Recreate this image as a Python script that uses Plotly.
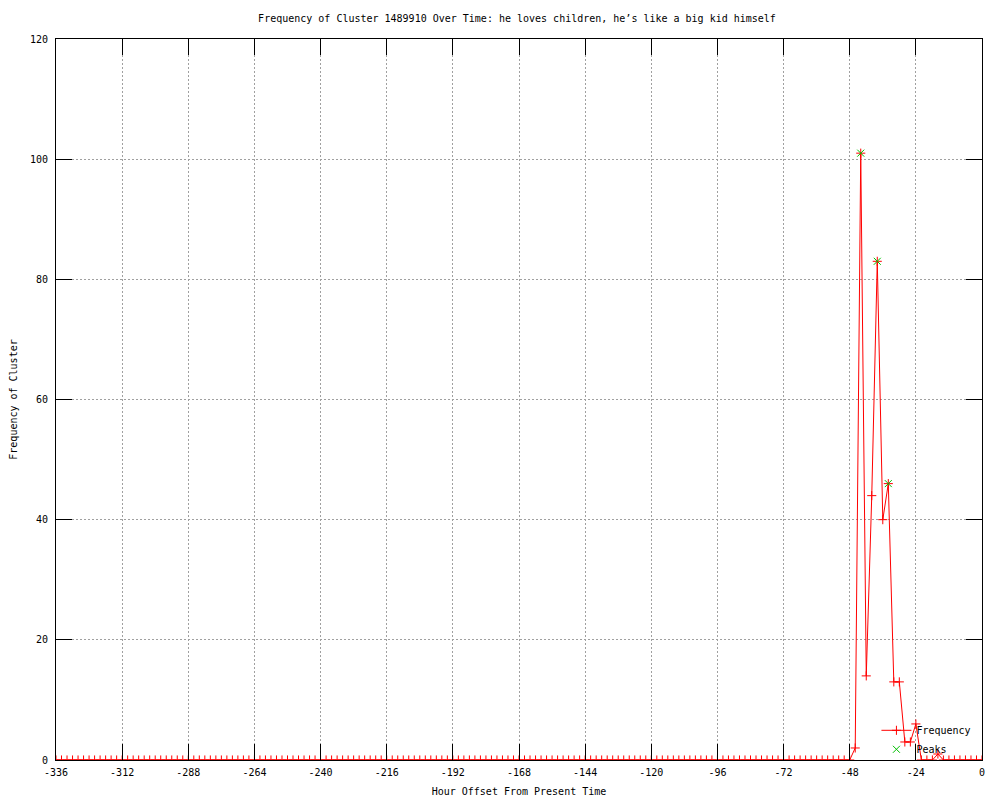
import plotly.graph_objects as go

# Hour offsets (every 2 hours from -336 to 0)
hours = list(range(-336, 1, 2))

# Frequency values
freq_early = [
    0, 0, 0, 0, 0, 0, 0, 0, 0, 0, 0, 0, 0, 0, 0, 0, 0, 0, 0, 0, 0, 0, 0, 0,
    0, 0, 0, 0, 0, 0, 0, 0, 0, 0, 0, 0, 0, 0, 0, 0, 0, 0, 0, 0, 0, 0, 0, 0,
    0, 0, 0, 0, 0, 0, 0, 0, 0, 0, 0, 0, 0, 0, 0, 0, 0, 0, 0, 0, 0, 0, 0, 0,
    0, 0, 0, 0, 0, 0, 0, 0, 0, 0, 0, 0, 0, 0, 0, 0, 0, 0, 0, 0, 0, 0, 0, 0,
    0, 0, 0, 0, 0, 0, 0, 0, 0, 0, 0, 0, 0, 0, 0, 0, 0, 0, 0, 0, 0, 0, 0, 0,
    0, 0, 0, 0, 0, 0, 0, 0, 0, 0, 0, 0, 0, 0, 0, 0, 0, 0, 0, 0, 0, 0, 0, 0,
]  # -336 .. -50
freq_late = [0, 2, 101, 14, 44, 83, 40, 46, 13, 13, 3, 3, 6, 0, 0, 0, 1,
             0, 0, 0, 0, 0, 0, 0, 0]  # -48 .. 0
frequency = freq_early + freq_late

# Peaks
peak_hours = [-44, -38, -34]
peak_values = [101, 83, 46]

# Axis ticks
x_tickvals = list(range(-336, 1, 24))
x_ticktext = ["-336", "-312", "-288", "-264", "-240", "-216", "-192", "-168",
              "-144", "-120", "-96", "-72", "-48", "-24", "0"]
y_tickvals = [0, 20, 40, 60, 80, 100, 120]
y_ticktext = ["0", "20", "40", "60", "80", "100", "120"]

title_text = "Frequency of Cluster 1489910 Over Time: he loves children, he\u2019s like a big kid himself"

FONT = "DejaVu Sans Mono"
W, H = 992, 792  # page body has an 8px margin

fig = go.Figure()
fig.add_trace(go.Scatter(
    x=hours, y=frequency, name="Frequency",
    mode="lines+markers",
    line=dict(color="#ff0000", width=1),
    marker=dict(symbol="cross-thin-open", size=6.5,
                line=dict(color="#ff0000", width=1), color="#ff0000"),
))
fig.add_trace(go.Scatter(
    x=peak_hours, y=peak_values, name="Peaks",
    mode="markers",
    marker=dict(symbol="x-thin-open", size=7,
                line=dict(color="#00c000", width=1), color="#00c000"),
))

axis_common = dict(
    showline=True, linecolor="black", linewidth=1, mirror="ticks",
    ticks="inside", ticklen=16, tickwidth=1, tickcolor="black",
    showgrid=True, gridcolor="#a0a0a0", gridwidth=1, griddash="2px,2px",
    zeroline=False, automargin=False,
    tickfont=dict(family=FONT, size=10, color="black"),
)

fig.update_layout(
    width=W, height=H,
    margin=dict(l=48, r=18, t=31, b=40),
    paper_bgcolor="white", plot_bgcolor="white",
    font=dict(family=FONT, size=10, color="black"),
    title=dict(text=title_text, x=509 / W, xanchor="center", xref="container",
               y=1 - 10 / H, yanchor="middle", yref="container",
               font=dict(family=FONT, size=10, color="black")),
    xaxis=dict(range=[-336, 0], tickmode="array", tickvals=x_tickvals,
               ticktext=x_ticktext, ticklabelstandoff=3,
               title=dict(text="Hour Offset From Present Time", standoff=10,
                          font=dict(family=FONT, size=10)),
               **axis_common),
    yaxis=dict(range=[0, 120], tickmode="array", tickvals=y_tickvals,
               ticktext=y_ticktext, ticklabelstandoff=5,
               title=dict(text="Frequency of Cluster", standoff=11,
                          font=dict(family=FONT, size=10)),
               **axis_common),
    legend=dict(x=0.886, y=0.028, xanchor="left", yanchor="middle",
                bgcolor="rgba(0,0,0,0)", borderwidth=0,
                font=dict(family=FONT, size=10, color="black"),
                itemwidth=30, tracegroupgap=0),
    showlegend=True,
)

fig.write_html("out.html")
